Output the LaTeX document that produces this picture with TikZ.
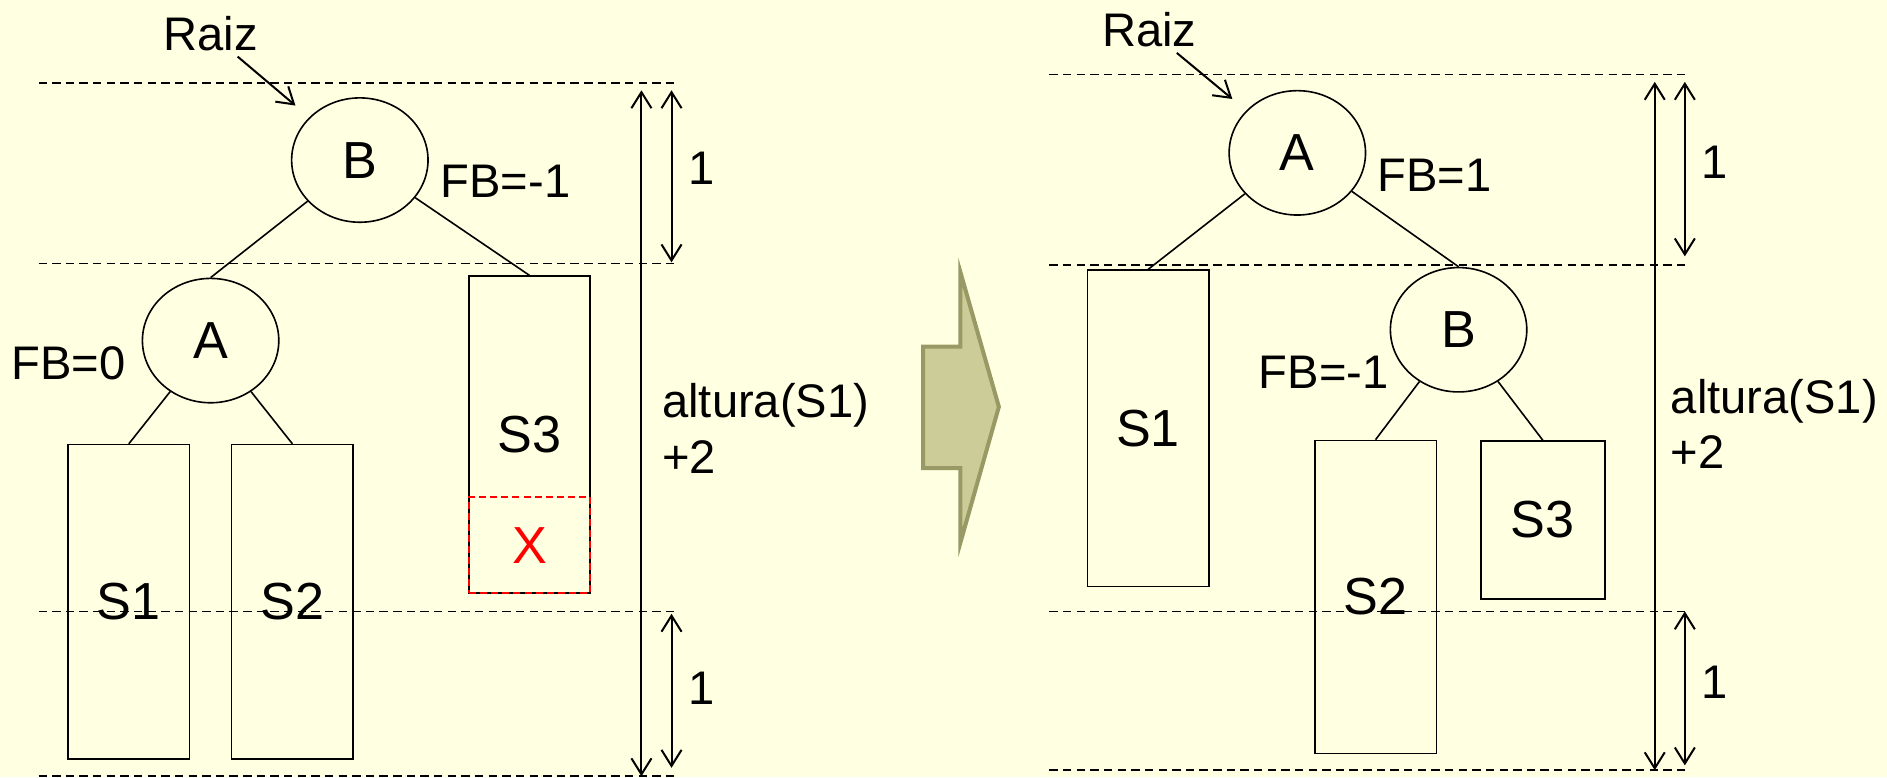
\documentclass[tikz,border=0pt]{standalone}
\usepackage{fontspec}
\setmainfont{Liberation Sans}
\usetikzlibrary{arrows.meta,shapes.geometric}
\definecolor{Ink}{HTML}{000000}
\definecolor{Cream}{HTML}{FFFFE1}
\definecolor{Olive}{HTML}{CCCC99}
\definecolor{OliveEdge}{HTML}{999966}
\definecolor{Alert}{HTML}{FF0000}
\tikzset{
  keynode/.style={
    ellipse, draw=Ink, line width=0.8pt, inner sep=0pt,
    minimum width=68pt, minimum height=62pt, font=\fontsize{26}{30}\selectfont
  },
  subtree/.style={
    draw=Ink, line width=0.8pt, inner sep=0pt,
    minimum width=60.6pt, font=\fontsize{26}{30}\selectfont
  },
  newleaf/.style={
    draw=Alert, text=Alert, line width=1pt, dash pattern=on 3.5pt off 2pt,
    inner sep=0pt, minimum width=60pt, minimum height=48pt,
    font=\fontsize{26}{30}\selectfont
  },
  note/.style={inner sep=0pt, font=\fontsize{23.5}{27.6}\selectfont},
  guide/.style={draw=Ink, line width=0.8pt, dash pattern=on 4.2pt off 2.6pt},
  link/.style={draw=Ink, line width=0.8pt},
  pointer/.style={-{Straight Barb[length=8pt,width=10pt]}, line width=1pt, draw=Ink},
  measure/.style={{Straight Barb[length=8pt,width=10pt]}-{Straight Barb[length=8pt,width=10pt]}, line width=1pt, draw=Ink}
}
\begin{document}
\begin{tikzpicture}[x=0.6pt,y=-0.6pt]
  \useasboundingbox (0,0) rectangle (1568,646);
  \fill[Cream] (0,0) rectangle (1568,646);
  % before the rotation
  \foreach \y in {69,219,508,645} \draw[guide] (32,\y) -- (560,\y);
  \node[keynode] (bL) at (299,133) {B};
  \node[keynode] (aL) at (175,283) {A};
  \node[subtree,minimum height=156.6pt] (s1L) at (107,500) {S1};
  \node[subtree,minimum height=156.6pt] (s2L) at (243,500) {S2};
  \node[subtree,minimum height=157.8pt] (s3L) at (440,361) {S3};
  \node[newleaf] (xL) at (440,453) {X};
  \node[note] (raizL) at (175,28) {Raiz};
  \node[note] (fbbL) at (420,151) {FB=-1};
  \node[note] (fbaL) at (57,302) {FB=0};
  \draw[link] (bL)--(aL.north);
  \draw[link] (bL)--(s3L.north);
  \draw[link] (aL)--(s1L.north);
  \draw[link] (aL)--(s2L.north);
  \draw[pointer,shorten <=4pt,shorten >=9pt] (raizL)--(bL);
  \draw[measure] (533,75)--(533,645);
  \draw[measure] (558,75)--(558,218);
  \draw[measure] (558,510)--(558,638);
  \node[note] (upL) at (583,140) {1};
  \node[note] (downL) at (583,572) {1};
  \node[note,anchor=west,align=left] (altL) at (550,356) {altura(S1)\\+2};
  % rotation
  \draw[OliveEdge,fill=Olive,line width=2pt,line join=miter]
    (767,288)--(798,288)--(798,226)--(830,338)--(798,451)--(798,389)--(767,389)--cycle;
  % after the rotation
  \foreach \y in {62,220,508,640} \draw[guide] (872,\y) -- (1400,\y);
  \node[keynode] (aR) at (1078,127) {A};
  \node[keynode] (bR) at (1212,274) {B};
  \node[subtree,minimum height=157.8pt] (s1R) at (954,356) {S1};
  \node[subtree,minimum height=156pt] (s2R) at (1143,496) {S2};
  \node[subtree,minimum height=78.6pt,minimum width=61.8pt] (s3R) at (1282,432) {S3};
  \node[note] (raizR) at (955,25) {Raiz};
  \node[note] (fbaR) at (1192,146) {FB=1};
  \node[note] (fbbR) at (1100,309) {FB=-1};
  \draw[link] (aR)--(s1R.north);
  \draw[link] (aR)--(bR.north);
  \draw[link] (bR)--(s2R.north);
  \draw[link] (bR)--(s3R.north);
  \draw[pointer,shorten <=4pt,shorten >=9pt] (raizR)--(aR);
  \draw[measure] (1375,68)--(1375,640);
  \draw[measure] (1400,68)--(1400,213);
  \draw[measure] (1400,508)--(1400,636);
  \node[note] (upR) at (1425,135) {1};
  \node[note] (downR) at (1425,567) {1};
  \node[note,anchor=west,align=left] (altR) at (1388,352) {altura(S1)\\+2};
\end{tikzpicture}
\end{document}
